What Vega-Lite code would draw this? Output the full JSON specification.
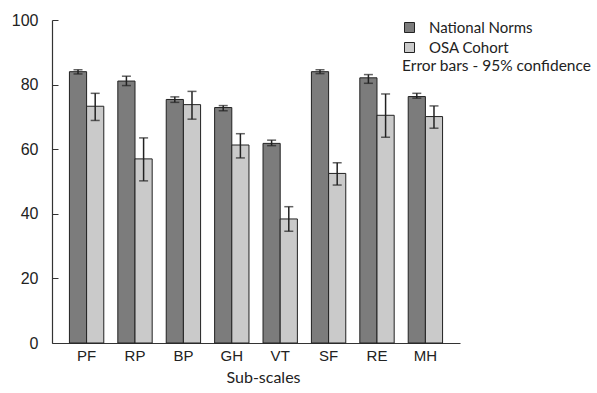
{
  "$schema": "https://vega.github.io/schema/vega-lite/v6.json",
  "width": 408,
  "height": 323,
  "autosize": "none",
  "padding": {"left": 52, "top": 20, "right": 137, "bottom": 50},
  "background": "white",
  "config": {"view": {"stroke": null}},
  "data": {"values": [
    {"cat": "PF", "group": "National Norms", "value": 84.0, "lo": 83.3, "hi": 84.6},
    {"cat": "PF", "group": "OSA Cohort", "value": 73.3, "lo": 68.9, "hi": 77.3},
    {"cat": "RP", "group": "National Norms", "value": 81.1, "lo": 79.7, "hi": 82.6},
    {"cat": "RP", "group": "OSA Cohort", "value": 57.0, "lo": 50.2, "hi": 63.5},
    {"cat": "BP", "group": "National Norms", "value": 75.4, "lo": 74.5, "hi": 76.2},
    {"cat": "BP", "group": "OSA Cohort", "value": 73.8, "lo": 69.3, "hi": 77.9},
    {"cat": "GH", "group": "National Norms", "value": 72.9, "lo": 71.9, "hi": 73.5},
    {"cat": "GH", "group": "OSA Cohort", "value": 61.3, "lo": 57.3, "hi": 64.8},
    {"cat": "VT", "group": "National Norms", "value": 61.8, "lo": 61.1, "hi": 62.8},
    {"cat": "VT", "group": "OSA Cohort", "value": 38.4, "lo": 34.6, "hi": 42.2},
    {"cat": "SF", "group": "National Norms", "value": 84.0, "lo": 83.4, "hi": 84.6},
    {"cat": "SF", "group": "OSA Cohort", "value": 52.5, "lo": 48.9, "hi": 55.8},
    {"cat": "RE", "group": "National Norms", "value": 82.1, "lo": 80.4, "hi": 83.1},
    {"cat": "RE", "group": "OSA Cohort", "value": 70.5, "lo": 63.7, "hi": 77.1},
    {"cat": "MH", "group": "National Norms", "value": 76.3, "lo": 75.8, "hi": 77.3},
    {"cat": "MH", "group": "OSA Cohort", "value": 70.1, "lo": 66.5, "hi": 73.4}
  ]},
  "encoding": {
    "x": {
      "field": "cat", "type": "nominal", "sort": null,
      "scale": {"paddingInner": 0.29, "paddingOuter": 0.36},
      "axis": {
        "title": "Sub-scales", "titleFont": "Lato", "titleFontSize": 16, "titleFontWeight": "normal",
        "titleColor": "#222", "titlePadding": 6, "titleX": 211,
        "labelFont": "Liberation Sans", "labelFontSize": 15, "labelColor": "#222", "labelAngle": 0,
        "labelPadding": 5, "ticks": false, "domainColor": "#333", "domainWidth": 1.2
      }
    },
    "xOffset": {"field": "group", "type": "nominal", "scale": {"paddingInner": 0, "paddingOuter": 0}}
  },
  "layer": [
    {
      "mark": {"type": "bar", "stroke": "#222", "strokeWidth": 1},
      "encoding": {
        "y": {
          "field": "value", "type": "quantitative",
          "scale": {"domain": [0, 100]},
          "axis": {
            "title": null, "values": [0, 10, 20, 30, 40, 50, 60, 70, 80, 90, 100],
            "labelExpr": "datum.value % 20 == 0 ? datum.label : ''",
            "labelFont": "Liberation Sans", "labelFontSize": 16, "labelColor": "#222",
            "tickSize": -6, "tickColor": "#333", "labelPadding": 20,
            "domainColor": "#333", "domainWidth": 1.2, "grid": false
          }
        },
        "fill": {
          "field": "group", "type": "nominal",
          "scale": {"range": ["#7c7c7c", "#cacaca"]},
          "legend": {
            "title": "Error bars - 95% confidence",
            "titleOrient": "bottom", "titleAnchor": "start", "titleLimit": 300,
            "titleFont": "Lato", "titleFontSize": 15.5, "titleFontWeight": "normal", "titleColor": "#222",
            "titlePadding": 3,
            "labelFont": "Lato", "labelFontSize": 15, "labelColor": "#222", "labelOffset": 12,
            "symbolType": "square", "symbolSize": 100, "symbolStrokeColor": "#222", "symbolStrokeWidth": 1,
            "orient": "none", "legendX": 350, "legendY": 0, "rowPadding": 4
          }
        }
      }
    },
    {
      "mark": {"type": "rule", "stroke": "#222", "strokeWidth": 1.5},
      "encoding": {
        "y": {"field": "lo", "type": "quantitative"},
        "y2": {"field": "hi"}
      }
    },
    {
      "mark": {"type": "tick", "color": "#222", "size": 9, "thickness": 1.5},
      "encoding": {"y": {"field": "hi", "type": "quantitative"}}
    },
    {
      "mark": {"type": "tick", "color": "#222", "size": 9, "thickness": 1.5},
      "encoding": {"y": {"field": "lo", "type": "quantitative"}}
    }
  ]
}
